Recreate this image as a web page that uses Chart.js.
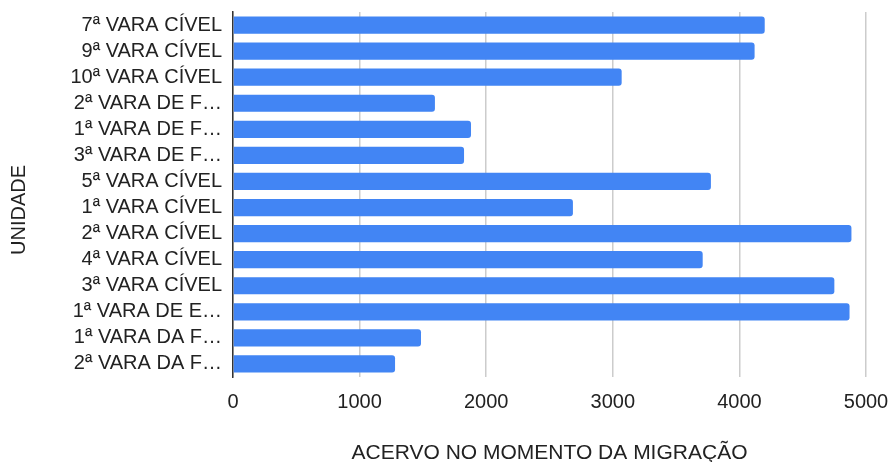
<!DOCTYPE html>
<html>
<head>
<meta charset="utf-8">
<script src="https://cdn.jsdelivr.net/npm/chart.js@4"></script>
<style>
  html, body { margin: 0; padding: 0; background: #fff; }
  #wrap { width: 892px; height: 462px; }
</style>
</head>
<body>
<div id="wrap"><canvas id="chart"></canvas></div>
<script>
// Units (category axis), top to bottom
const unidades = [
    '7ª VARA CÍVEL', '9ª VARA CÍVEL', '10ª VARA CÍVEL', '2ª VARA DE F…',
    '1ª VARA DE F…', '3ª VARA DE F…', '5ª VARA CÍVEL', '1ª VARA CÍVEL',
    '2ª VARA CÍVEL', '4ª VARA CÍVEL', '3ª VARA CÍVEL', '1ª VARA DE E…',
    '1ª VARA DA F…', '2ª VARA DA F…'
];

// Acervo no momento da migração
const acervo = [4200, 4120, 3070, 1595, 1880, 1825, 3775, 2685, 4885, 3710, 4750, 4870, 1485, 1280];

// X axis ticks
const xTicks = [0, 1000, 2000, 3000, 4000, 5000];

const fontFamily = '"Liberation Sans", Arial, sans-serif';

// Draw the y axis title a bit lower than the plot centre, like the reference
const yTitlePlugin = {
    id: 'yTitle',
    afterDraw(chart) {
        const ctx = chart.ctx;
        ctx.save();
        ctx.translate(19, 210);
        ctx.rotate(-Math.PI / 2);
        ctx.font = '20px ' + fontFamily;
        ctx.fillStyle = '#222';
        ctx.textAlign = 'center';
        ctx.textBaseline = 'middle';
        ctx.fillText('UNIDADE', 0, 0);
        ctx.restore();
    }
};

new Chart(document.getElementById('chart'), {
    type: 'bar',
    data: {
        labels: unidades,
        datasets: [{
            label: 'ACERVO NO MOMENTO DA MIGRAÇÃO',
            data: acervo,
            backgroundColor: '#4285f4',
            borderRadius: 3,
            borderSkipped: 'start',
            barPercentage: 0.66,
            categoryPercentage: 1
        }]
    },
    options: {
        indexAxis: 'y',
        responsive: true,
        maintainAspectRatio: false,
        animation: false,
        layout: { padding: 0 },
        plugins: {
            legend: { display: false },
            tooltip: { enabled: false }
        },
        scales: {
            x: {
                min: 0,
                max: 5000,
                afterBuildTicks(axis) {
                    axis.ticks = xTicks.map(v => ({ value: v }));
                },
                ticks: {
                    color: '#222',
                    font: { family: fontFamily, size: 20 },
                    padding: 13,
                    maxRotation: 0,
                    callback: value => String(value)
                },
                grid: {
                    color: '#cccccc',
                    lineWidth: 1.5,
                    drawTicks: false
                },
                border: { display: false },
                title: {
                    display: true,
                    text: 'ACERVO NO MOMENTO DA MIGRAÇÃO',
                    color: '#222',
                    font: { family: fontFamily, size: 21 },
                    padding: { top: -6, bottom: -4 }
                },
                afterFit(axis) {
                    axis.height = 85;
                    axis.paddingLeft = 0;
                    axis.paddingRight = 26;
                }
            },
            y: {
                ticks: {
                    color: '#222',
                    font: { family: fontFamily, size: 20 },
                    padding: 11,
                    autoSkip: false
                },
                grid: { display: false, drawTicks: false },
                border: { display: true, color: '#333', width: 1.5 },
                afterFit(axis) {
                    axis.width = 233;
                    axis.paddingTop = 12;
                    axis.paddingBottom = 0;
                }
            }
        }
    },
    plugins: [yTitlePlugin]
});
</script>
</body>
</html>
